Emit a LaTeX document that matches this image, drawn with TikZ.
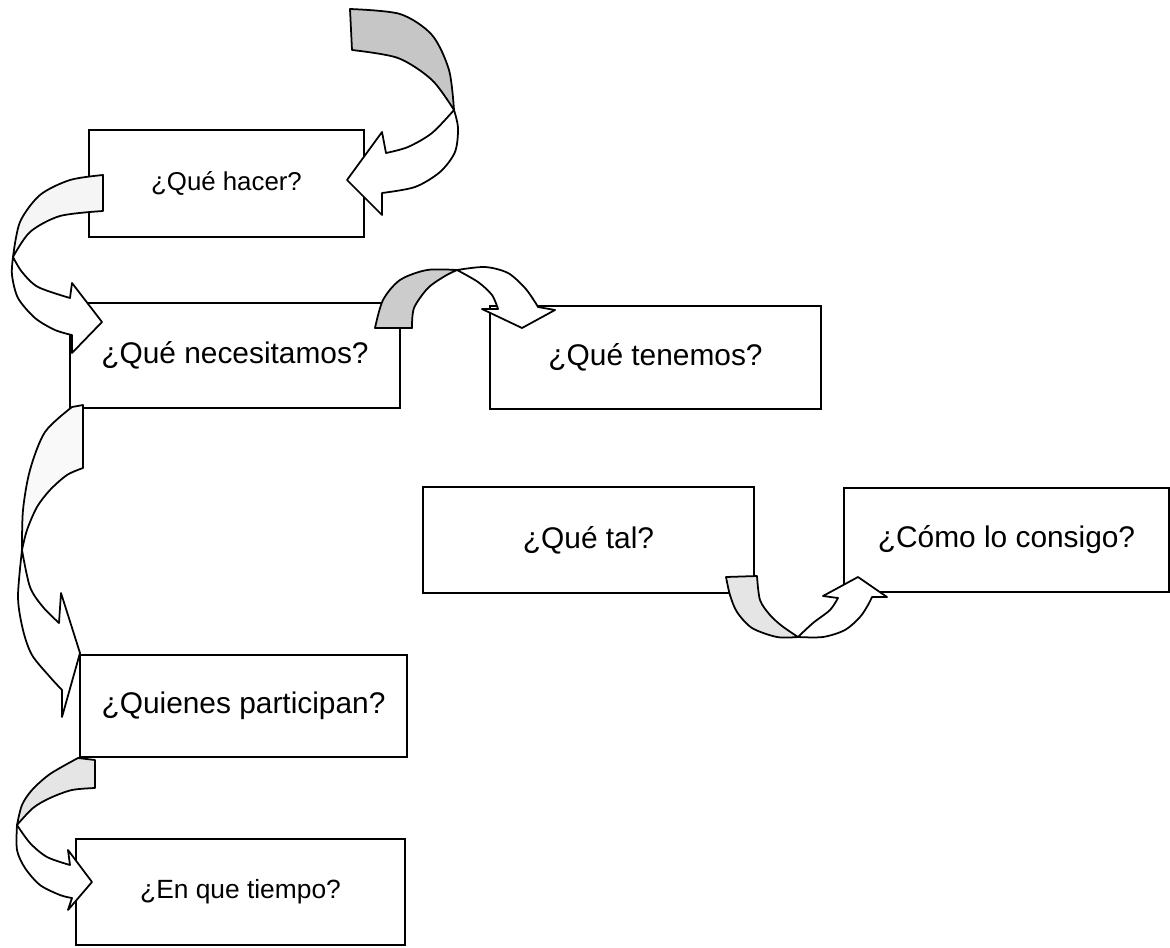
\documentclass[tikz,border=0pt]{standalone}
\usepackage{fontspec}
\setmainfont{Liberation Sans}

\tikzset{
    pregunta/.style={rectangle, draw, line width=0.7pt, fill=white,
        font=\fontsize{17}{20}\selectfont},
    cara/.style={draw, line width=1pt, fill=white, line join=round},
    dorso/.style={draw, line width=1pt, fill=gray!#1, line join=round},
    dorso/.default=40
}

\begin{document}
\begin{tikzpicture}[x=0.02cm, y=-0.02cm]
    \fill[white] (0,0) rectangle (1170,947);
    \useasboundingbox (0,0) rectangle (1170,947);

    % cajas
    \node[pregunta, minimum width=5.5cm, minimum height=2.14cm,
        font=\fontsize{14.7}{18}\selectfont] (hacer) at (226.5,183.5) {¿Qué hacer?};
    \node[pregunta, minimum width=6.6cm, minimum height=2.1cm] (necesitamos) at (235,355.5) {¿Qué necesitamos?};
    \node[pregunta, minimum width=6.62cm, minimum height=2.06cm] (tenemos) at (655.5,357.5) {¿Qué tenemos?};
    \node[pregunta, minimum width=6.62cm, minimum height=2.12cm] (tal) at (588.5,540) {¿Qué tal?};
    \node[pregunta, minimum width=6.5cm, minimum height=2.08cm] (consigo) at (1006.5,540) {¿Cómo lo consigo?};
    \node[pregunta, minimum width=6.54cm, minimum height=2.04cm] (participan) at (243.5,706) {¿Quienes participan?};
    \node[pregunta, minimum width=6.58cm, minimum height=2.12cm,
        font=\fontsize{15}{18}\selectfont] (tiempo) at (240.5,892) {¿En que tiempo?};

    % flecha de arriba hacia hacer
    \filldraw[dorso=45] plot[smooth] coordinates {(350,9) (400,14) (432,35) (449,70) (454,110)}
        -- plot[smooth] coordinates {(454,110) (432,80) (398,58) (352,50)} -- cycle;
    \filldraw[cara] plot[smooth] coordinates {(454,110) (458,128) (455,152) (440,172) (415,187) (382,193)}
        -- (382,215) -- (347,180) -- (382,132) -- (386,153)
        -- plot[smooth] coordinates {(386,153) (408,147) (432,133) (454,110)} -- cycle;

    % hacer -> necesitamos
    \filldraw[dorso=8] plot[smooth] coordinates {(103,175) (70,180) (40,195) (20,222) (13,257)}
        -- plot[smooth] coordinates {(13,257) (30,232) (60,216) (103,211)} -- cycle;
    \filldraw[cara] plot[smooth] coordinates {(13,257) (12,275) (18,298) (35,318) (55,330) (72,335)}
        -- (72,353) -- (102,322) -- (72,283) -- (70,298)
        -- plot[smooth] coordinates {(70,298) (38,287) (22,272) (13,257)} -- cycle;

    % necesitamos -> tenemos
    \filldraw[dorso=40] (375,328) -- (412,328)
        -- plot[smooth] coordinates {(412,328) (414,308) (428,288) (445,276) (457,270)}
        -- plot[smooth] coordinates {(457,270) (427,270) (400,280) (383,300) (375,328)} -- cycle;
    \filldraw[cara] plot[smooth] coordinates {(457,270) (485,267) (508,273) (525,288) (535,302) (538,307)}
        -- (555,310) -- (522,328) -- (482,309) -- (498,309)
        -- plot[smooth] coordinates {(498,309) (492,295) (478,282) (457,270)} -- cycle;

    % necesitamos -> participan
    \filldraw[dorso=5] (72,407) -- (83,405) -- (83,468)
        -- plot[smooth] coordinates {(83,468) (67,475) (50,490) (37,507) (27,530) (22,550)}
        -- plot[smooth] coordinates {(22,550) (23,510) (30,470) (45,432) (72,407)} -- cycle;
    \filldraw[cara] plot[smooth] coordinates {(22,550) (18,597) (23,630) (32,655) (50,677) (62,690)}
        -- (62,717) -- (80,653) -- (61,593) -- (59,623)
        -- plot[smooth] coordinates {(59,623) (43,607) (30,587) (22,550)} -- cycle;

    % participan -> tiempo
    \filldraw[dorso=20] (78,758) -- (95,760) -- (95,788)
        -- plot[smooth] coordinates {(95,788) (72,790) (50,798) (33,808) (17,825)}
        -- plot[smooth] coordinates {(17,825) (22,805) (32,790) (50,774) (78,758)} -- cycle;
    \filldraw[cara] plot[smooth] coordinates {(17,825) (17,850) (25,868) (40,885) (60,895) (72,898)}
        -- (68,910) -- (92,882) -- (68,850) -- (70,865)
        -- plot[smooth] coordinates {(70,865) (47,857) (30,843) (17,825)} -- cycle;

    % tal -> consigo
    \filldraw[dorso=20] (726,577) -- (757,576)
        -- plot[smooth] coordinates {(757,576) (760,600) (770,615) (782,626) (798,637)}
        -- plot[smooth] coordinates {(798,637) (777,637) (752,628) (737,612) (730,595) (726,577)} -- cycle;
    \filldraw[cara] plot[smooth] coordinates {(798,637) (823,637) (845,630) (860,617) (868,605) (872,597)}
        -- (887,597) -- (858,577) -- (823,596) -- (838,598)
        -- plot[smooth] coordinates {(838,598) (830,610) (813,623) (798,637)} -- cycle;
\end{tikzpicture}
\end{document}
